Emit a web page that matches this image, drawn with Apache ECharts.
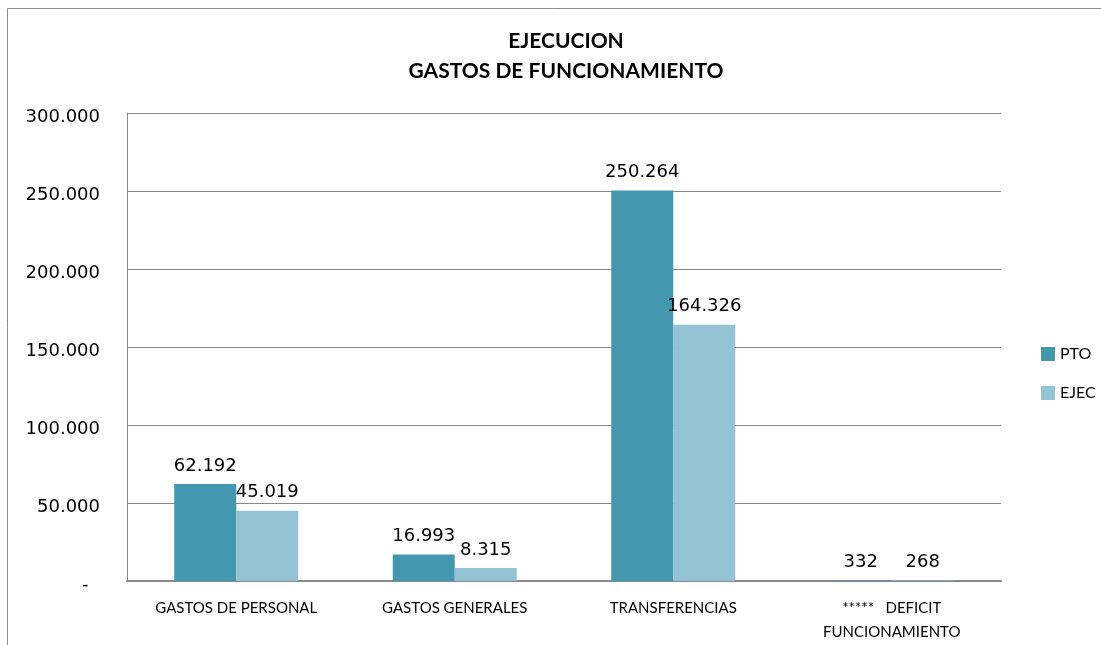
<!DOCTYPE html>
<head>
    <meta charset="utf-8">
    <title>ECharts</title>
</head>
<body style="margin:0">
<div id="main" style="width:1101px;height:645px"></div>
<script src="https://cdn.jsdelivr.net/npm/echarts@6/dist/echarts.min.js"></script>
<script type="text/javascript">
    // datos
    var categorias = ['GASTOS DE PERSONAL', 'GASTOS GENERALES', 'TRANSFERENCIAS', '*****   DEFICIT\nFUNCIONAMIENTO'];
    var pto = [62192, 16993, 250264, 332];
    var ejec = [45019, 8315, 164326, 268];

    function miles(v) {
        if (v === 0) return '-  ';
        return String(Math.round(v)).replace(/\B(?=(\d{3})+(?!\d))/g, '.');
    }

    var myChart = echarts.init(document.getElementById('main'));
    myChart.setOption({
        animation: false,
        backgroundColor: '#fff',
        graphic: [{
            type: 'rect',
            shape: { x: 7.5, y: 8.5, width: 1200, height: 1000 },
            style: { fill: 'none', stroke: '#8c8c8c', lineWidth: 1 }
        }],
        title: {
            text: 'EJECUCION\nGASTOS DE FUNCIONAMIENTO',
            left: 561,
            textAlign: 'center',
            top: 21,
            textStyle: {
                fontFamily: 'Lato',
                fontWeight: 'bold',
                fontSize: 21,
                lineHeight: 30,
                color: '#000'
            }
        },
        legend: {
            orient: 'vertical',
            left: 1036,
            top: 341,
            itemWidth: 14,
            itemHeight: 14,
            itemGap: 23,
            icon: 'rect',
            textStyle: { fontFamily: 'Lato', fontSize: 16, color: '#000' },
            data: ['PTO', 'EJEC']
        },
        grid: { left: 127, right: 100, top: 113, bottom: 64 },
        xAxis: {
            type: 'category',
            data: categorias,
            axisLine: { lineStyle: { color: '#888', width: 2 } },
            axisTick: { show: false },
            axisLabel: {
                fontFamily: 'Lato',
                fontSize: 15,
                lineHeight: 24,
                color: '#000',
                margin: 15,
                interval: 0
            }
        },
        yAxis: {
            type: 'value',
            min: 0,
            max: 300000,
            interval: 50000,
            axisLine: { show: true, lineStyle: { color: '#888' } },
            axisTick: { show: false },
            splitLine: { lineStyle: { color: '#888', width: 1 } },
            axisLabel: {
                color: '#000',
                margin: 27,
                formatter: function (v) { return '{t|' + miles(v) + '}'; },
                rich: {
                    t: {
                        fontFamily: 'DejaVu Sans',
                        fontSize: 18,
                        color: '#000',
                        padding: [8, 0, 0, 0]
                    }
                }
            }
        },
        series: [{
            name: 'PTO',
            type: 'bar',
            data: pto,
            barWidth: 62,
            barGap: '0%',
            itemStyle: { color: '#4398B0' },
            label: {
                show: true,
                position: 'top',
                distance: 9,
                fontFamily: 'DejaVu Sans',
                fontSize: 18,
                color: '#000',
                formatter: function (p) { return miles(p.value); }
            }
        }, {
            name: 'EJEC',
            type: 'bar',
            data: ejec,
            barWidth: 62,
            itemStyle: { color: '#93C3D5' },
            label: {
                show: true,
                position: 'top',
                distance: 9,
                fontFamily: 'DejaVu Sans',
                fontSize: 18,
                color: '#000',
                formatter: function (p) { return miles(p.value); }
            }
        }]
    });
</script>
</body>
